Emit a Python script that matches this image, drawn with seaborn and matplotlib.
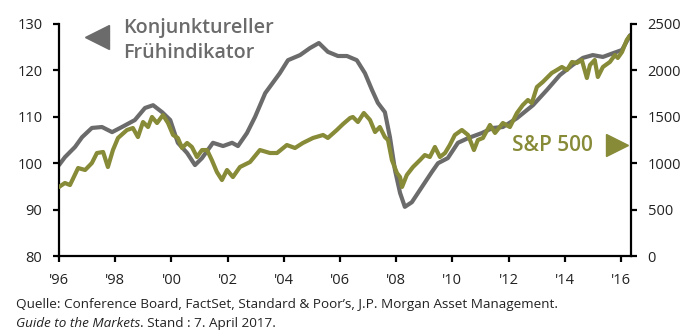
import matplotlib
matplotlib.use("Agg")
import matplotlib.pyplot as plt
import seaborn as sns
import pandas as pd

# ---------------- data ----------------
lei_year = [1996.0, 1996.21, 1996.57, 1996.82, 1997.17, 1997.53, 1997.89, 1998.24, 1998.70, 1999.06,
            1999.35, 1999.67, 1999.96, 2000.23, 2000.56, 2000.84, 2001.09, 2001.48, 2001.84, 2002.16,
            2002.37, 2002.69, 2002.98, 2003.34, 2003.86, 2004.15, 2004.58, 2004.93, 2005.25, 2005.57,
            2005.93, 2006.25, 2006.60, 2006.89, 2007.14, 2007.35, 2007.60, 2007.78, 2007.96, 2008.14,
            2008.31, 2008.56, 2008.92, 2009.27, 2009.49, 2009.84, 2010.20, 2010.56, 2011.05, 2011.44,
            2011.80, 2012.30, 2012.87, 2013.37, 2013.83, 2014.29, 2014.65, 2015.00, 2015.36, 2015.72,
            2016.04, 2016.33]
lei_value = [99.6, 101.3, 103.5, 105.6, 107.6, 107.8, 106.7, 107.8, 109.3, 111.9,
             112.5, 111.0, 109.3, 104.4, 102.2, 99.6, 101.1, 104.4, 103.7, 104.4,
             103.7, 106.5, 110.0, 115.1, 119.4, 122.2, 123.3, 124.8, 125.9, 124.0,
             123.1, 123.1, 122.2, 119.4, 115.8, 113.0, 111.0, 105.6, 98.5, 93.6,
             90.6, 91.6, 94.9, 98.1, 100.0, 101.1, 104.4, 105.4, 106.5, 107.6,
             107.8, 109.7, 112.5, 115.8, 119.0, 121.2, 122.7, 123.3, 122.9, 123.7,
             124.4, 127.6]

spx_year = [1996.0, 1996.21, 1996.39, 1996.68, 1996.93, 1997.17, 1997.35, 1997.57, 1997.74, 1997.92,
            1998.10, 1998.42, 1998.63, 1998.81, 1998.99, 1999.17, 1999.31, 1999.49, 1999.70, 1999.88,
            2000.06, 2000.23, 2000.38, 2000.56, 2000.73, 2000.91, 2001.09, 2001.27, 2001.44, 2001.62,
            2001.80, 2001.98, 2002.19, 2002.44, 2002.80, 2003.15, 2003.51, 2003.76, 2004.11, 2004.40,
            2004.68, 2005.04, 2005.40, 2005.57, 2005.89, 2006.11, 2006.36, 2006.46, 2006.64, 2006.85,
            2007.07, 2007.25, 2007.42, 2007.60, 2007.71, 2007.85, 2008.03, 2008.14, 2008.21, 2008.38,
            2008.60, 2008.85, 2009.02, 2009.20, 2009.38, 2009.56, 2009.74, 2009.91, 2010.09, 2010.34,
            2010.56, 2010.77, 2010.91, 2011.09, 2011.34, 2011.52, 2011.80, 2012.05, 2012.30, 2012.51,
            2012.69, 2012.83, 2013.01, 2013.22, 2013.54, 2013.72, 2013.90, 2014.08, 2014.26, 2014.43,
            2014.61, 2014.79, 2014.90, 2015.07, 2015.18, 2015.36, 2015.61, 2015.79, 2015.89, 2016.04,
            2016.21, 2016.31]
spx_value = [744, 787, 765, 948, 927, 1002, 1110, 1121, 959, 1142,
             1272, 1358, 1379, 1282, 1444, 1390, 1498, 1433, 1519, 1433,
             1304, 1272, 1164, 1218, 1175, 1067, 1142, 1142, 1034, 905,
             819, 927, 851, 959, 1013, 1142, 1110, 1110, 1196, 1164,
             1218, 1272, 1304, 1272, 1358, 1422, 1487, 1498, 1444, 1541,
             1466, 1336, 1390, 1282, 1250, 1034, 894, 851, 744, 873,
             959, 1034, 1088, 1067, 1175, 1067, 1110, 1196, 1304, 1358,
             1304, 1142, 1250, 1272, 1412, 1326, 1433, 1390, 1541, 1627,
             1681, 1648, 1821, 1875, 1972, 2004, 2037, 2004, 2091, 2080,
             2112, 1918, 2058, 2112, 1929, 2037, 2091, 2166, 2134, 2198,
             2328, 2371]

xtick_pos = [1996, 1998, 2000, 2002, 2004, 2006, 2008, 2010, 2012, 2014, 2016]
xtick_labels = ["'96", "'98", "'00", "'02", "'04", "'06", "'08", "'10", "'12", "'14", "'16"]
left_ticks = [80, 90, 100, 110, 120, 130]
right_ticks = [0, 500, 1000, 1500, 2000, 2500]

lei_label = ["Konjunktureller", "Frühindikator"]
spx_label = "S&P 500"
source_line1 = "Quelle: Conference Board, FactSet, Standard & Poor’s, J.P. Morgan Asset Management."
source_italic = "Guide to the Markets"
source_rest = ". Stand : 7. April 2017."

# ---------------- style ----------------
sns.set_style("ticks")
plt.rcParams["font.family"] = ["Open Sans", "DejaVu Sans"]

GRAY = "#6b6b6b"
OLIVE = "#878a36"
TXT = "#222222"

lei_df = pd.DataFrame({"year": lei_year, "value": lei_value})
spx_df = pd.DataFrame({"year": spx_year, "value": spx_value})

fig = plt.figure(figsize=(6.95, 3.36), dpi=100)
ax = fig.add_axes([0.0849, 0.238, 0.823, 0.6906])
ax2 = ax.twinx()

sns.lineplot(data=lei_df, x="year", y="value", ax=ax, color=GRAY, linewidth=3.0)
sns.lineplot(data=spx_df, x="year", y="value", ax=ax2, color=OLIVE, linewidth=3.0)

ax.set_xlim(1996, 2016.36)
ax.set_ylim(80, 130)
ax2.set_ylim(0, 2500)

ax.set_xticks(xtick_pos)
ax.set_xticklabels(xtick_labels)
ax.set_yticks(left_ticks)
ax2.set_yticks(right_ticks)

for a in (ax, ax2):
    a.set_xlabel("")
    a.set_ylabel("")
    a.spines["top"].set_visible(False)
    for s in a.spines.values():
        s.set_linewidth(1.6)
        s.set_color("black")
    a.tick_params(axis="both", length=4.5, width=1.6, color="black",
                  labelsize=10.5, labelcolor=TXT, pad=7.5)
ax.spines["right"].set_visible(False)
ax2.spines["left"].set_visible(False)
ax2.spines["bottom"].set_visible(False)

# annotations
ax.text(0.112, 0.961, lei_label[0], transform=ax.transAxes, fontsize=14.2,
        fontweight="semibold", color=GRAY, va="baseline", ha="left")
ax.text(0.112, 0.853, lei_label[1], transform=ax.transAxes, fontsize=14.2,
        fontweight="semibold", color=GRAY, va="baseline", ha="left")
ax.plot([0.0664], [0.944], marker="<", markersize=17, color=GRAY,
        transform=ax.transAxes, clip_on=False, linestyle="none")

ax.text(0.934, 0.478, spx_label, transform=ax.transAxes, fontsize=15,
        fontweight="semibold", color=OLIVE, va="center", ha="right")
ax.plot([0.9755], [0.478], marker=">", markersize=16, color=OLIVE,
        transform=ax.transAxes, clip_on=False, linestyle="none")

# source
fig.text(0.023, 0.0833, source_line1, fontsize=9.7, color=TXT, va="baseline", ha="left")
t1 = fig.text(0.023, 0.0268, source_italic, fontsize=9.7, color=TXT, va="baseline",
              ha="left", style="italic")
fig.canvas.draw()
ax.annotate(source_rest, xy=(1, 0), xycoords=t1, va="bottom", ha="left",
            fontsize=9.7, color=TXT, annotation_clip=False)

fig.savefig("out.png", dpi=100)
